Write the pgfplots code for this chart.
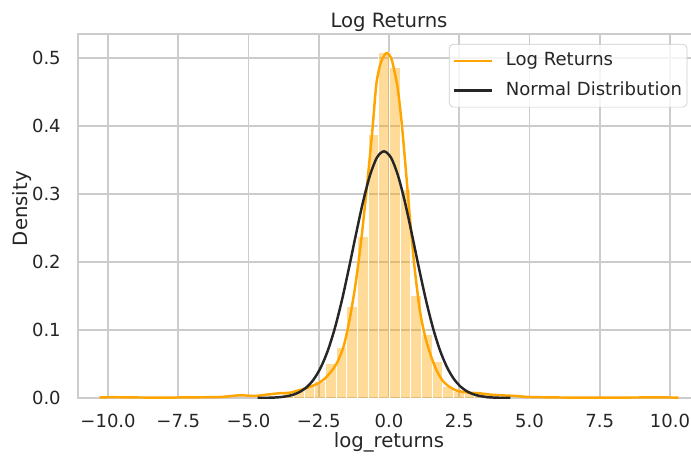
\documentclass[border=0pt]{standalone}
\usepackage{fontspec}
\setmainfont{DejaVu Sans}
\usepackage{pgfplots}
\pgfplotsset{compat=1.18}
\definecolor{gridc}{HTML}{CCCCCC}
\definecolor{txt}{HTML}{262626}
\definecolor{kde}{HTML}{FFA500}
\begin{document}
\begin{tikzpicture}
\begin{axis}[
  scale only axis,
  width=379.3pt, height=222pt,
  xmin=-11.07, xmax=11.07, ymin=0, ymax=0.5353,
  axis line style={gridc, line width=1.25pt},
  grid=major,
  major grid style={gridc, line width=1pt},
  tick style={draw=none},
  xtick={-10,-7.5,-5,-2.5,0,2.5,5,7.5,10},
  xticklabels={−10.0,−7.5,−5.0,−2.5,0.0,2.5,5.0,7.5,10.0},
  ytick={0,0.1,0.2,0.3,0.4,0.5},
  yticklabels={0.0,0.1,0.2,0.3,0.4,0.5},
  ticklabel style={font=\fontsize{11}{13}\selectfont, text=txt},
  xticklabel style={yshift=-6.5pt},
  yticklabel style={xshift=-7pt},
  title={Log Returns},
  title style={font=\fontsize{12}{14}\selectfont, text=txt, at={(axis description cs:0.5,1)}, anchor=center, yshift=1pt},
  xlabel={log\_returns},
  ylabel={Density},
  xlabel style={font=\fontsize{12}{14}\selectfont, text=txt, at={(axis description cs:0.5,0)}, anchor=center, yshift=-27pt},
  ylabel style={font=\fontsize{12}{14}\selectfont, text=txt, at={(axis description cs:0,0.52)}, anchor=center, yshift=34.3pt},
  legend cell align=left,
  legend image code/.code={\draw[#1, line width=1.5pt] (0pt,0pt) -- (23pt,0pt);},
  legend style={
    at={(axis cs:10.62,0.5206)}, anchor=north east,
    draw=gridc, fill=white, fill opacity=0.8, text opacity=1,
    rounded corners=2.5pt,
    font=\fontsize{11}{13}\selectfont, text=txt,
    inner xsep=2pt, inner ysep=3.8pt,
    row sep=5.7pt, column sep=7pt,
    nodes={inner sep=1pt, text height=8pt, text depth=2.5pt},
  },
]
% histogram (density), bin width 0.38
\addplot[ybar interval, fill=kde, fill opacity=0.4, draw=white, line width=0.6pt, forget plot] coordinates {
  (-4.16,0.004) (-3.78,0.006) (-3.40,0.009) (-3.02,0.017) (-2.64,0.024)
  (-2.26,0.051) (-1.88,0.075) (-1.50,0.135) (-1.12,0.237) (-0.74,0.388)
  (-0.36,0.508) (0.02,0.486) (0.40,0.306) (0.78,0.151) (1.16,0.094)
  (1.54,0.053) (1.92,0.017) (2.30,0.009) (2.68,0.007) (3.06,0.005)
  (3.44,0.005)
};
% kernel density estimate
\addplot[kde, line width=1.5pt, smooth, tension=0.4] coordinates {
  (-10.3,0.0008) (-9.8,0.0012) (-9.0,0.0008) (-8.0,0.0006) (-7.0,0.001)
  (-6.0,0.0015) (-5.3,0.004) (-4.8,0.003) (-4.35,0.005) (-3.9,0.007)
  (-3.5,0.008) (-3.0,0.014) (-2.6,0.020) (-2.3,0.028) (-2.0,0.042)
  (-1.8,0.056) (-1.6,0.078) (-1.4,0.116) (-1.2,0.165) (-1.0,0.228)
  (-0.8,0.305) (-0.6,0.39) (-0.45,0.462) (-0.3,0.492) (-0.15,0.505)
  (-0.05,0.507) (0.1,0.497) (0.3,0.458) (0.45,0.405) (0.6,0.335)
  (0.75,0.262) (0.9,0.195) (1.1,0.128) (1.3,0.088) (1.5,0.061)
  (1.7,0.040) (1.9,0.026) (2.1,0.018) (2.4,0.011) (2.8,0.008)
  (3.2,0.007) (3.6,0.005) (4.0,0.004) (4.5,0.003) (5.0,0.0015)
  (6.0,0.0008) (7.0,0.0006) (8.0,0.0006) (9.0,0.0008) (9.6,0.001)
  (10.3,0.0005)
};
\addlegendentry{Log Returns}
% fitted normal distribution
\addplot[black!85, line width=1.5pt, smooth] coordinates {
  (-4.68,0.0001) (-4.18,0.0005) (-3.93,0.0011) (-3.68,0.0023) (-3.43,0.0046)
  (-3.18,0.0088) (-2.93,0.0159) (-2.68,0.0274) (-2.43,0.0448) (-2.18,0.0695)
  (-1.93,0.1023) (-1.68,0.1431) (-1.43,0.1902) (-1.18,0.2399) (-0.93,0.2875)
  (-0.68,0.3271) (-0.43,0.3535) (-0.18,0.3627) (0.07,0.3535) (0.32,0.3271)
  (0.57,0.2875) (0.82,0.2399) (1.07,0.1902) (1.32,0.1431) (1.57,0.1023)
  (1.82,0.0695) (2.07,0.0448) (2.32,0.0274) (2.57,0.0159) (2.82,0.0088)
  (3.07,0.0046) (3.32,0.0023) (3.57,0.0011) (3.82,0.0005) (4.32,0.0001)
};
\addlegendentry{Normal Distribution}
\end{axis}
\pgfresetboundingbox
\path[use as bounding box] (-47.56pt,-35.98pt) rectangle (373.8pt,242.7pt);
\end{tikzpicture}
\end{document}
